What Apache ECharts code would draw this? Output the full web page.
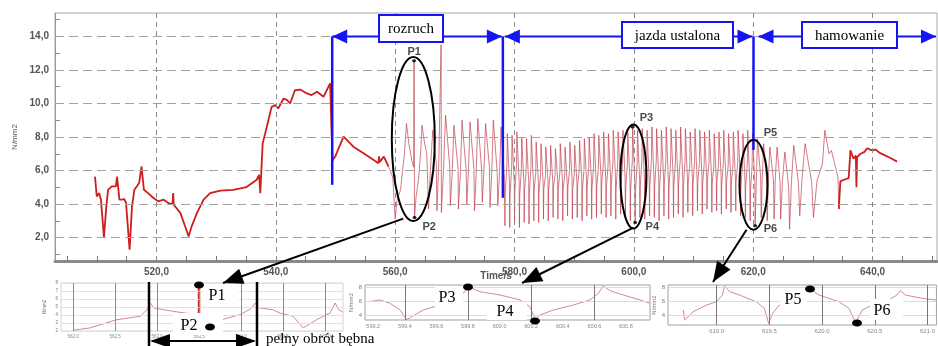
<!DOCTYPE html>
<html>
<head>
<meta charset="utf-8">
<script src="https://cdn.jsdelivr.net/npm/echarts@6.0.0/dist/echarts.min.js"></script>
<style>
html, body { margin: 0; padding: 0; background: #fff; }
#chart { width: 938px; height: 346px; }
</style>
</head>
<body>
<div id="chart"></div>
<script>
// ---- main record: stress [N/mm2] vs time [s] ----
var stressBefore = [
  [509.7,5.64],[510.0,4.45],[510.4,4.65],[510.7,4.26],[511.2,2.0],[511.6,3.86],[511.9,4.85],[512.5,5.05],
  [513.2,5.05],[513.4,5.64],[513.8,4.26],[514.2,4.26],[514.6,4.3],[514.9,4.07],[515.5,1.28],[515.9,3.86],
  [516.3,4.85],[516.7,5.05],[517.1,5.25],[517.5,6.24],[517.9,4.85],[518.6,4.65],[519.5,4.36],[520.3,4.16],
  [521.2,4.26],[522.0,4.06],[522.7,4.0],[522.8,4.65],[522.9,3.96],[524.0,3.47],[524.8,2.67],[525.4,2.07],
  [525.9,2.67],[526.8,3.47],[527.9,4.26],[529.0,4.65],[530.7,4.8],[532.9,4.85],[535.1,5.01],[536.8,5.45],
  [537.2,5.74],[537.4,4.65],[537.8,7.62],[538.5,8.61],[539.3,9.8],[539.9,9.9],[540.4,9.7],[541.3,10.3],
  [541.9,10.2],[542.4,10.0],[543.2,10.79],[544.1,10.83],[545.2,10.6],[546.0,10.5],[546.9,10.7],[548.0,10.4],
  [549.1,11.2],[549.4,11.3],[549.5,6.6],[549.95,6.83],[551.35,8.02],[553.0,7.42],[554.7,7.03],[556.4,6.63],
  [557.2,6.44],[557.3,6.85],[557.4,6.5],[558.1,6.83],[558.9,6.23]
];
// start-up, steady run and braking cycles: dip, rise, peak, decay
var stressCycles = [
  [558.9,6.23],[559.6,5.6],[560.0,3.1],[560.3,4.2],[560.9,4.85],[561.5,6.8],[561.9,8.8],[562.3,7.6],
  [562.8,6.6],[563.1,6.2],[563.17,12.55],[563.25,3.2],[563.5,4.4],[563.9,5.4],[564.3,7.2],[564.5,8.7],
  [564.9,7.7],[565.3,7.0],[565.6,3.7],[565.9,6.0],[566.3,8.4],[566.9,6.4],[567.0,3.6],[567.3,6.3],
  [567.7,13.5],[567.75,3.5],[568.1,6.0],[568.45,9.3],[569.15,6.2],[569.25,3.9],[569.6,6.1],[569.85,8.7],
  [570.55,6.1],[570.6,3.7],[570.95,6.0],[571.2,9.0],[571.9,6.0],[572.0,4.0],[572.3,6.1],[572.55,8.9],
  [573.2,6.1],[573.3,3.6],[573.6,6.0],[573.85,9.1],[574.5,6.0],[574.6,4.1],[574.9,6.2],[575.15,8.8],
  [575.8,6.2],[575.9,3.8],[576.2,6.0],[576.45,9.0],[577.1,5.9],[577.2,3.9],[577.5,5.9],[577.75,8.6],
  [578.3,5.6],
  [578.40,2.7],[578.45,4.6],[578.73,6.3],[578.79,8.2],[579.15,5.3],
  [579.20,2.6],[579.25,4.5],[579.53,6.2],[579.59,8.1],[579.96,5.2],
  [580.01,2.8],[580.06,4.7],[580.34,6.4],[580.40,8.3],[580.77,5.4],
  [580.82,2.6],[580.87,4.5],[581.15,6.1],[581.21,8.0],[581.58,5.2],
  [581.63,2.9],[581.68,4.8],[581.96,6.0],[582.02,7.9],[582.38,5.3],
  [582.43,2.8],[582.48,4.6],[582.76,6.2],[582.82,8.1],[583.19,5.1],
  [583.24,3.0],[583.29,4.8],[583.57,5.9],[583.63,7.7],[584.00,5.3],
  [584.05,2.9],[584.10,4.7],[584.38,5.8],[584.44,7.6],[584.81,5.2],
  [584.86,3.1],[584.91,4.9],[585.19,5.7],[585.25,7.4],[585.61,5.4],
  [585.66,3.0],[585.71,4.8],[585.99,5.8],[586.05,7.5],[586.42,5.3],
  [586.47,3.2],[586.52,5.0],[586.80,5.7],[586.86,7.3],[587.23,5.5],
  [587.28,3.1],[587.33,4.9],[587.61,5.9],[587.67,7.6],[588.04,5.4],
  [588.09,3.0],[588.14,4.8],[588.42,5.8],[588.48,7.4],[588.84,5.2],
  [588.89,3.3],[588.94,5.0],[589.22,6.0],[589.28,7.7],[589.65,5.5],
  [589.70,3.1],[589.75,4.9],[590.03,5.8],[590.09,7.5],[590.46,5.3],
  [590.51,3.2],[590.56,5.0],[590.84,6.0],[590.90,7.8],[591.27,5.6],
  [591.32,3.0],[591.37,4.8],[591.65,6.1],[591.71,7.9],[592.07,5.4],
  [592.12,3.3],[592.17,5.0],[592.45,6.2],[592.51,8.0],[592.88,5.5],
  [592.93,3.1],[592.98,4.9],[593.26,6.3],[593.32,8.2],[593.69,5.3],
  [593.74,3.2],[593.79,5.0],[594.07,6.2],[594.13,8.1],[594.50,5.6],
  [594.55,3.4],[594.60,5.1],[594.88,6.4],[594.94,8.3],[595.30,5.4],
  [595.35,3.2],[595.40,5.0],[595.68,6.3],[595.74,8.2],[596.11,5.5],
  [596.16,3.3],[596.21,5.1],[596.49,6.5],[596.55,8.4],[596.92,5.6],
  [596.97,3.1],[597.02,4.9],[597.30,6.4],[597.36,8.3],[597.73,5.4],
  [597.78,3.4],[597.83,5.1],[598.11,6.5],[598.17,8.4],[598.54,5.5],
  [598.59,3.2],[598.64,5.0],[598.92,6.4],[598.98,8.3],[599.36,5.3],
  [599.41,3.0],[599.46,4.8],[599.74,6.6],[599.80,8.6],[600.17,5.2],
  [600.22,2.9],[600.27,4.7],[600.55,6.5],[600.61,8.4],[600.97,5.4],
  [601.02,3.2],[601.07,5.0],[601.35,6.6],[601.41,8.5],[601.78,5.5],
  [601.83,3.1],[601.88,4.9],[602.16,6.5],[602.22,8.4],[602.58,5.3],
  [602.63,3.3],[602.68,5.1],[602.96,6.7],[603.02,8.6],[603.38,5.6],
  [603.43,3.2],[603.48,5.0],[603.76,6.6],[603.82,8.5],[604.18,5.4],
  [604.23,3.0],[604.28,4.8],[604.56,6.5],[604.62,8.4],[604.99,5.5],
  [605.04,3.3],[605.09,5.1],[605.37,6.7],[605.43,8.6],[605.79,5.3],
  [605.84,3.1],[605.89,4.9],[606.17,6.6],[606.23,8.5],[606.59,5.6],
  [606.64,3.2],[606.69,5.0],[606.97,6.5],[607.03,8.4],[607.40,5.4],
  [607.45,3.4],[607.50,5.2],[607.78,6.7],[607.84,8.6],[608.20,5.5],
  [608.25,3.2],[608.30,5.0],[608.58,6.6],[608.64,8.5],[609.00,5.3],
  [609.05,3.5],[609.10,5.2],[609.38,6.4],[609.44,8.3],[609.81,5.6],
  [609.86,3.3],[609.91,5.1],[610.19,6.6],[610.25,8.5],[610.61,5.4],
  [610.66,3.6],[610.71,5.3],[610.99,6.5],[611.05,8.4],[611.41,5.7],
  [611.46,3.4],[611.51,5.1],[611.79,6.4],[611.85,8.3],[612.21,5.5],
  [612.26,3.7],[612.31,5.3],[612.59,6.5],[612.65,8.4],[613.02,5.6],
  [613.07,3.5],[613.12,5.2],[613.40,6.3],[613.46,8.2],[613.82,5.4],
  [613.87,3.6],[613.92,5.3],[614.20,6.4],[614.26,8.3],[614.62,5.7],
  [614.67,3.4],[614.72,5.1],[615.00,6.5],[615.06,8.4],[615.43,5.5],
  [615.48,3.7],[615.53,5.3],[615.81,6.3],[615.87,8.2],[616.23,5.6],
  [616.28,3.5],[616.33,5.2],[616.61,6.4],[616.67,8.3],[617.03,5.4],
  [617.08,3.6],[617.13,5.3],[617.41,6.5],[617.47,8.4],[617.84,5.6],
  [617.89,3.3],[617.94,5.1],[618.22,6.3],[618.28,8.2],[618.64,5.3],
  [618.69,3.2],[618.74,5.0],[619.02,6.5],[619.08,8.4],[619.44,5.2],
  [619.49,3.0],[619.54,4.8],[619.82,6.3],[619.88,8.2],[620.27,5.3],
  [620.32,2.7],[620.5,5.0],[620.72,7.9],[621.25,5.6],[621.35,3.2],[621.5,5.4],[621.75,7.6],[622.25,5.5],
  [622.35,3.0],[622.55,5.6],[622.8,7.4],[623.4,5.4],[623.5,3.1],[623.7,5.5],[624.0,7.4],[624.5,5.3],
  [624.6,3.1],[624.9,5.4],[625.3,7.1],[625.95,5.0],[626.1,2.5],[626.4,5.3],[626.8,7.5],[627.6,5.2],
  [627.8,3.3],[628.2,5.6],[628.7,7.6],[629.8,5.3],[630.1,3.2],[630.7,5.4],[631.6,6.4],[632.0,8.4],
  [632.4,7.6],[632.7,7.0],[633.1,7.2],[633.8,6.2],[634.2,5.6],[634.35,3.7]
];
var stressAfter = [
  [634.35,3.7],[634.6,5.35],[635.2,5.45],[636.0,5.55],[636.3,7.2],[636.8,6.7],[637.2,6.9],[637.3,5.0],
  [637.4,6.8],[638.0,7.0],[638.6,7.1],[639.1,7.33],[639.6,7.25],[640.0,7.2],[640.5,7.25],[641.2,7.05],
  [641.9,6.93],[643.0,6.75],[644.1,6.53]
];

// ---- zoomed excerpts ----
var inset1 = [
  [562.003,2.1],[562.20,2.38],[562.52,3.41],[562.80,3.84],[562.88,4.66],[562.92,5.5],[562.96,4.88],
  [563.19,4.46],[563.47,4.04],[563.50,4.13],[563.63,2.5],[563.77,3.41],[563.99,4.04],[564.12,4.8],
  [564.17,5.5],[564.21,4.9],[564.38,4.66],[564.46,4.25],[564.62,3.84],[564.74,2.38],[564.90,3.41],
  [565.06,4.25],[565.12,5.5],[565.16,4.66],[565.21,4.38]
];
var inset1Spike = [[563.50,4.1],[563.50,7.75]];
var inset2 = [
  [599.169,5.91],[599.243,6.16],[599.306,5.69],[599.370,4.73],[599.412,3.35],[599.444,3.77],[599.517,4.73],
  [599.623,5.44],[599.728,6.40],[599.781,7.34],[599.802,8.06],[599.876,7.34],[600.003,6.87],[600.129,6.16],
  [600.192,5.2],[600.224,3.4],[600.256,4.01],[600.340,4.73],[600.466,5.44],[600.572,6.16],[600.625,7.11],
  [600.656,8.16],[600.699,7.49],[600.783,6.87],[600.889,6.16],[600.952,5.69]
];
var inset3 = [
  [618.682,4.73],[618.698,3.3],[618.776,4.49],[618.903,5.44],[618.997,5.91],[619.054,6.87],[619.075,8.16],
  [619.123,7.34],[619.217,6.87],[619.375,5.91],[619.453,4.97],[619.493,2.83],[619.531,4.26],[619.594,5.44],
  [619.736,6.59],[619.840,7.69],[619.877,7.8],[619.972,6.87],[620.160,5.91],[620.255,4.97],[620.318,2.91],
  [620.380,4.73],[620.475,5.44],[620.632,6.16],[620.710,6.87],[620.742,7.49],[620.790,6.87],[620.946,6.4],
  [621.085,6.16]
];

// ---- axes ----
var yLabels = [2, 4, 6, 8, 10, 12, 14];
var yTicks = [1, 2, 3, 4, 5, 6, 7, 8, 9, 10, 11, 12, 13, 14, 15];
var xLabels = [520, 540, 560, 580, 600, 620, 640];
var xTicks = [505, 510, 515, 520, 525, 530, 535, 540, 545, 550, 555, 560, 565, 570, 575, 580,
              585, 590, 595, 600, 605, 610, 615, 620, 625, 630, 635, 640, 645, 650];
var inset1X = [562, 562.5, 563, 563.5, 564, 564.5, 565];
var inset1Y = [2, 3, 4, 5, 6, 7, 8];
var inset2X = [599.2, 599.4, 599.6, 599.8, 600.0, 600.2, 600.4, 600.6, 600.8];
var inset2Marks = [599.4, 599.8, 600.2, 600.6];
var inset3X = [619.0, 619.5, 620.0, 620.5, 621.0];
var insetY = [4, 6, 8];

// ---- phases ----
var phaseNames = ['rozruch', 'jazda ustalona', 'hamowanie'];
var phaseStart = [549.45, 578.05, 620.05];
var phaseLineEnd = [5.15, 4.37, 7.23];

function comma(v) { return v.toFixed(1).replace('.', ','); }
function dot1(v) { return v.toFixed(1); }

function grid(k, list, isX, color, type) {
  return {
    type: 'line', xAxisIndex: k, yAxisIndex: k, data: [], z: 1, silent: true,
    markLine: {
      silent: true, symbol: ['none', 'none'], label: { show: false }, animation: false,
      lineStyle: { color: color, type: type, width: 1 },
      data: list.map(function (v) { return isX ? { xAxis: v } : { yAxis: v }; })
    }
  };
}

var axisFont = { fontFamily: 'Liberation Sans', fontSize: 10, fontWeight: 'bold', color: '#555' };

function insetX(k, min, max, labels, fmt, size) {
  return {
    type: 'value', gridIndex: k, min: min, max: max,
    axisLine: { show: false }, axisTick: { show: false }, splitLine: { show: false },
    axisLabel: { customValues: labels, formatter: fmt, fontSize: size, color: '#888', margin: 3 }
  };
}
function insetYAxis(k, min, max, labels, size, gap) {
  return {
    type: 'value', gridIndex: k, min: min, max: max,
    axisLine: { show: false }, axisTick: { show: false }, splitLine: { show: false },
    axisLabel: { customValues: labels, fontSize: size, color: '#777', margin: 3 },
    name: 'N/mm2', nameLocation: 'middle', nameRotate: 90, nameGap: gap,
    nameTextStyle: { fontSize: size, color: '#777' }
  };
}

var option = {
  animation: false,
  grid: [
    { left: 55, top: 13, width: 882, height: 248, show: true, borderColor: '#a8a8a8', borderWidth: 1 },
    { left: 61, top: 283, width: 282, height: 48, show: true, borderColor: '#d4d4d4', borderWidth: 1 },
    { left: 365, top: 285, width: 285, height: 35, show: true, borderColor: '#a0a0a0', borderWidth: 1 },
    { left: 668, top: 285, width: 270, height: 40, show: true, borderColor: '#a0a0a0', borderWidth: 1 }
  ],
  xAxis: [
    {
      type: 'value', gridIndex: 0, min: 503, max: 650.8,
      axisLine: { lineStyle: { color: '#8a8a8a', width: 3 } },
      axisTick: { inside: true, length: 5, customValues: xTicks, lineStyle: { color: '#777' } },
      axisLabel: Object.assign({ customValues: xLabels, formatter: comma, margin: 6 }, axisFont),
      splitLine: { show: false },
      name: 'Time/s', nameLocation: 'middle', nameGap: 10, nameMoveOverlap: false,
      nameTextStyle: axisFont
    },
    insetX(1, 561.857, 565.214, inset1X, comma, 4.5),
    insetX(2, 599.148, 600.952, inset2X, dot1, 5.5),
    insetX(3, 618.538, 621.085, inset3X, dot1, 6)
  ],
  yAxis: [
    {
      type: 'value', gridIndex: 0, min: 0.6, max: 15.4,
      axisLine: { show: true, lineStyle: { color: '#9a9a9a', width: 1 } },
      axisTick: { inside: true, length: 5, customValues: yTicks, lineStyle: { color: '#888' } },
      axisLabel: Object.assign({ customValues: yLabels, formatter: comma, margin: 6 }, axisFont),
      splitLine: { show: false },
      name: 'N/mm2', nameLocation: 'middle', nameRotate: 90, nameGap: 36,
      nameTextStyle: { fontFamily: 'Liberation Sans', fontSize: 8, color: '#555' }
    },
    insetYAxis(1, 2, 8, inset1Y, 4.5, 14),
    insetYAxis(2, 3.3, 8.3, insetY, 6, 11),
    insetYAxis(3, 2.6, 8.3, insetY, 6, 10)
  ],
  series: [
    grid(0, yLabels, false, '#a3a3a3', [9, 5]),
    grid(0, xLabels, true, '#8a8a8a', [5, 4]),
    grid(1, inset1Y, false, '#e2e2e2', 'solid'),
    grid(1, inset1X, true, '#8c8c8c', 'solid'),
    grid(2, insetY, false, '#dcdcdc', 'solid'),
    grid(2, inset2Marks, true, '#777', 'solid'),
    grid(3, insetY, false, '#dcdcdc', 'solid'),
    grid(3, inset3X, true, '#777', 'solid'),
    { type: 'line', xAxisIndex: 0, yAxisIndex: 0, data: stressBefore, symbol: 'none', z: 3,
      lineStyle: { color: '#d01c1c', width: 1.8 } },
    { type: 'line', xAxisIndex: 0, yAxisIndex: 0, data: stressCycles, symbol: 'none', z: 3,
      lineStyle: { color: '#bf3a48', width: 0.8, opacity: 0.85 } },
    { type: 'line', xAxisIndex: 0, yAxisIndex: 0, data: stressAfter, symbol: 'none', z: 3,
      lineStyle: { color: '#d01c1c', width: 1.8 } },
    { type: 'line', xAxisIndex: 1, yAxisIndex: 1, data: inset1, symbol: 'none', z: 3,
      lineStyle: { color: '#cf8a92', width: 1 } },
    { type: 'line', xAxisIndex: 1, yAxisIndex: 1, data: inset1Spike, symbol: 'none', z: 3,
      lineStyle: { color: '#b83232', width: 2.5 } },
    { type: 'line', xAxisIndex: 2, yAxisIndex: 2, data: inset2, symbol: 'none', z: 3,
      lineStyle: { color: '#cf8a92', width: 1 } },
    { type: 'line', xAxisIndex: 3, yAxisIndex: 3, data: inset3, symbol: 'none', z: 3,
      lineStyle: { color: '#cf8a92', width: 1 } }
  ]
};

var chart = echarts.init(document.getElementById('chart'));
chart.setOption(option);

// ---- annotations ----
function px(t, v) { return chart.convertToPixel({ gridIndex: 0 }, [t, v]); }
var g = [];
function line(x1, y1, x2, y2, color, w) {
  g.push({ type: 'line', z: 100, shape: { x1: x1, y1: y1, x2: x2, y2: y2 }, style: { stroke: color, lineWidth: w } });
}
function head(tx, ty, fx, fy, len, half, color) {
  var dx = tx - fx, dy = ty - fy, d = Math.sqrt(dx * dx + dy * dy);
  dx /= d; dy /= d;
  var bx = tx - dx * len, by = ty - dy * len;
  g.push({ type: 'polygon', z: 101,
    shape: { points: [[tx, ty], [bx - dy * half, by + dx * half], [bx + dy * half, by - dx * half]] },
    style: { fill: color } });
}
function box(x, y, w, h, stroke, lw) {
  g.push({ type: 'rect', z: 102, shape: { x: x, y: y, width: w, height: h },
    style: { fill: '#fff', stroke: stroke || null, lineWidth: lw || 0 } });
}
function text(x, y, s, font, color, align) {
  g.push({ type: 'text', z: 103, x: x, y: y,
    style: { text: s, font: font, fill: color, align: align || 'center', verticalAlign: 'middle' } });
}
function ell(cx, cy, rx, ry, fill, stroke, lw) {
  g.push({ type: 'ellipse', z: 104, shape: { cx: cx, cy: cy, rx: rx, ry: ry },
    style: { fill: fill || 'none', stroke: stroke || null, lineWidth: lw || 0 } });
}

var blue = '#1414f5';
var serif = '"Liberation Serif", serif';
var yTop = px(0, 14.0)[1];
var bounds = phaseStart.concat([650.8]);
phaseStart.forEach(function (t, i) {
  var a = px(t, 14.0), b = px(t, phaseLineEnd[i]);
  line(a[0], a[1], b[0], b[1], blue, 2.5);
});
var leftGap = [0, 2, 5], rightGap = [1, 1, 1];
for (var i = 0; i < 3; i++) {
  var xa = px(bounds[i], 0)[0] + leftGap[i];
  var xb = px(bounds[i + 1], 0)[0] - rightGap[i];
  line(xa, yTop, xb, yTop, blue, 2);
  head(xa, yTop, xa + 10, yTop, 15, 7, blue);
  head(xb, yTop, xb - 10, yTop, 15, 7, blue);
}
var phaseBox = [[379, 15, 64, 27], [622, 22, 111, 26], [802, 22, 95, 26]];
phaseBox.forEach(function (r, i) {
  box(r[0], r[1], r[2], r[3], blue, 2);
  text(r[0] + r[2] / 2, r[1] + r[3] / 2 + 1, phaseNames[i], '15px ' + serif, '#000');
});

// ellipses around the selected cycles and their point names
var rings = [[563.04, 7.88, 21.5, 82], [599.93, 5.65, 13, 52], [620.05, 5.15, 14, 45]];
rings.forEach(function (r) {
  var c = px(r[0], r[1]);
  ell(c[0], c[1], r[2], r[3], null, '#000', 2);
});
var pNames = ['P1', 'P2', 'P3', 'P4', 'P5', 'P6'];
var pAt = [[563.2, 13.1], [565.7, 2.65], [602.1, 9.13], [603.1, 2.65], [622.9, 8.24], [622.9, 2.53]];
pNames.forEach(function (n, i) {
  var p = px(pAt[i][0], pAt[i][1]);
  text(p[0], p[1], n, 'bold 11px "Liberation Sans"', '#4a4a4a');
});
var pDots = [[563.17, 12.55], [563.25, 3.2], [599.8, 8.6], [600.22, 2.9], [620.32, 2.7]];
pDots.forEach(function (d) {
  var p = px(d[0], d[1]);
  ell(p[0], p[1], 2, 1.5, '#222');
});

// arrows from the ellipses to the zoomed excerpts
var arrowFrom = [[561.36, 3.13], [599.93, 2.59], [618.88, 2.47]];
var arrowTo = [[223, 283], [522, 283], [713, 282]];
arrowFrom.forEach(function (f, i) {
  var a = px(f[0], f[1]), b = arrowTo[i];
  line(a[0], a[1], b[0], b[1], '#000', 2);
  head(b[0], b[1], a[0], a[1], 20, 8, '#000');
});

// excerpt labels
var insetBox = [[203, 285, 36, 20], [173, 313, 50, 22], [435, 286, 28, 28], [487, 302, 40, 18], [780, 288, 27, 24], [870, 299, 33, 21]];
var insetText = [[217, 296], [189, 326], [447, 298], [505, 312], [793, 300], [882, 311]];
var insetDot = [[199, 285], [210, 327], [468, 287], [535, 321], [810, 289], [857, 323]];
pNames.forEach(function (n, i) {
  var r = insetBox[i];
  box(r[0], r[1], r[2], r[3]);
  text(insetText[i][0], insetText[i][1], n, '16px ' + serif, '#000');
  ell(insetDot[i][0], insetDot[i][1], 5, 3.5, '#000');
});

// one full drum revolution
line(149, 282, 149, 346, '#000', 2.5);
line(257, 282, 257, 346, '#000', 2.5);
line(152, 341, 254, 341, '#000', 2);
head(150, 341, 170, 341, 20, 7, '#000');
head(256, 341, 236, 341, 20, 7, '#000');
text(266, 339, 'pełny obrót bębna', '15px ' + serif, '#000', 'left');

chart.setOption({ graphic: g });
</script>
</body>
</html>
